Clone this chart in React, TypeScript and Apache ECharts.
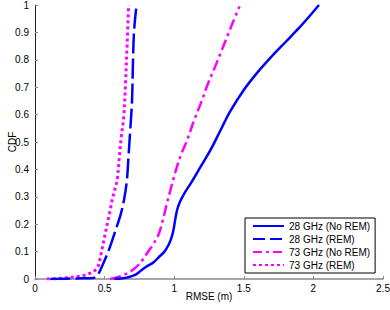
import React, { useEffect, useRef } from "react";
import * as echarts from "echarts";

const seriesNames = ["28 GHz (No REM)", "28 GHz (REM)", "73 GHz (No REM)", "73 GHz (REM)"];

const x28NoRem = [0.57, 0.62, 0.66, 0.72, 0.76, 0.80, 0.85, 0.89, 0.93, 0.96, 0.98, 0.995, 1.005, 1.02, 1.04, 1.07, 1.12, 1.19, 1.26, 1.33, 1.40, 1.50, 1.60, 1.70, 1.80, 1.90, 1.97, 2.04];
const y28NoRem = [0, 0.002, 0.005, 0.015, 0.03, 0.045, 0.06, 0.08, 0.10, 0.125, 0.15, 0.18, 0.21, 0.25, 0.28, 0.31, 0.35, 0.41, 0.47, 0.54, 0.61, 0.69, 0.755, 0.812, 0.865, 0.918, 0.958, 1.0];

const x28Rem = [0.11, 0.3, 0.42, 0.445, 0.48, 0.53, 0.58, 0.615, 0.64, 0.66, 0.672, 0.685, 0.697, 0.703, 0.71, 0.72, 0.73];
const y28Rem = [0, 0.002, 0.004, 0.01, 0.045, 0.105, 0.18, 0.235, 0.29, 0.36, 0.45, 0.55, 0.65, 0.775, 0.89, 0.955, 1.0];

const x73NoRem = [0.54, 0.6, 0.685, 0.75, 0.805, 0.853, 0.89, 0.924, 0.95, 0.973, 1.0, 1.02, 1.05, 1.093, 1.14, 1.2, 1.24, 1.284, 1.33, 1.38, 1.42, 1.47];
const y73NoRem = [0, 0.008, 0.027, 0.055, 0.094, 0.13, 0.165, 0.227, 0.28, 0.325, 0.375, 0.41, 0.455, 0.507, 0.575, 0.653, 0.71, 0.763, 0.82, 0.884, 0.935, 0.995];

const x73Rem = [0.085, 0.2, 0.33, 0.39, 0.42, 0.445, 0.46, 0.48, 0.505, 0.525, 0.54, 0.555, 0.575, 0.59, 0.605, 0.62, 0.637, 0.649, 0.662, 0.673];
const y73Rem = [0, 0.003, 0.011, 0.02, 0.027, 0.04, 0.057, 0.105, 0.167, 0.215, 0.252, 0.29, 0.33, 0.36, 0.44, 0.52, 0.59, 0.70, 0.86, 1.0];

const xTicks = [0, 0.5, 1, 1.5, 2, 2.5];
const yTicks = [0, 0.1, 0.2, 0.3, 0.4, 0.5, 0.6, 0.7, 0.8, 0.9, 1];

const zip = (xs: number[], ys: number[]) => xs.map((x, i) => [x, ys[i]]);

export default function App() {
  const ref = useRef<HTMLDivElement>(null);
  useEffect(() => {
    if (!ref.current) return;
    const chart = echarts.init(ref.current, undefined, { renderer: "svg" });
    const font = "Liberation Sans, Arial, sans-serif";
    const blue = "#0000FF";
    const mag = "#FF00FF";
    const styles: any[] = [
      { color: blue, width: 2.5, type: "solid" },
      { color: blue, width: 2.5, type: [20, 5] },
      { color: mag, width: 2.5, type: [11, 4, 3, 4] },
      { color: mag, width: 3, type: [3, 3] },
    ];
    const legendStyles: any[] = [
      { type: "solid" },
      { type: [12, 5] },
      { type: [9, 4, 3, 4] },
      { type: [3, 3] },
    ];
    const datas = [
      zip(x28NoRem, y28NoRem),
      zip(x28Rem, y28Rem),
      zip(x73NoRem, y73NoRem),
      zip(x73Rem, y73Rem),
    ];
    chart.setOption({
      animation: false,
      backgroundColor: "#fff",
      grid: { left: 35, right: 7, top: 5, bottom: 31, outerBoundsMode: "none", containLabel: false },
      graphic: [
        {
          type: "text",
          x: 12,
          y: 142,
          rotation: Math.PI / 2,
          style: {
            text: "CDF",
            fontSize: 10,
            fontFamily: font,
            fill: "#000",
            textAlign: "center",
            textVerticalAlign: "middle",
          },
        },
      ],
      legend: {
        orient: "vertical",
        left: 245,
        top: 218,
        backgroundColor: "#fff",
        borderColor: "#000",
        borderWidth: 1,
        borderRadius: 0,
        padding: [2, 5, 2, 7],
        itemGap: 1,
        itemWidth: 31,
        itemHeight: 12,
        itemStyle: { opacity: 0 },
        textStyle: { fontSize: 10, fontFamily: font, color: "#000", lineHeight: 12 },
        data: seriesNames.map((n, i) => ({ name: n, lineStyle: legendStyles[i] })),
      },
      xAxis: {
        type: "value",
        min: 0,
        max: 2.5,
        interval: 0.5,
        name: "RMSE (m)",
        nameLocation: "middle",
        nameGap: 12,
        nameMoveOverlap: false,
        nameTextStyle: { fontSize: 10, fontFamily: font, color: "#000" },
        axisLine: { show: true, lineStyle: { color: "#888", width: 1.5 } },
        axisTick: { show: true, inside: true, length: 3, lineStyle: { color: "#888" } },
        axisLabel: { fontSize: 10, fontFamily: font, color: "#000", margin: 4, formatter: (v: number) => String(v) },
        splitLine: { show: false },
      },
      yAxis: {
        type: "value",
        min: 0,
        max: 1,
        interval: 0.1,
        axisLine: { show: true, lineStyle: { color: "#222", width: 1 } },
        axisTick: { show: true, inside: true, length: 3, lineStyle: { color: "#888" } },
        axisLabel: { fontSize: 10, fontFamily: font, color: "#000", margin: 6, formatter: (v: number) => String(Math.round(v * 10) / 10) },
        splitLine: { show: false },
      },
      series: seriesNames.map((n, i) => ({
        name: n,
        type: "line",
        data: datas[i],
        showSymbol: false,
        symbol: "none",
        smooth: 0.35,
        lineStyle: styles[i],
        itemStyle: { color: styles[i].color },
        z: 10 - i,
      })),
    });
    return () => chart.dispose();
  }, []);
  return <div ref={ref} style={{ width: 390, height: 310, position: "absolute", left: 0, top: 0 }} />;
}
